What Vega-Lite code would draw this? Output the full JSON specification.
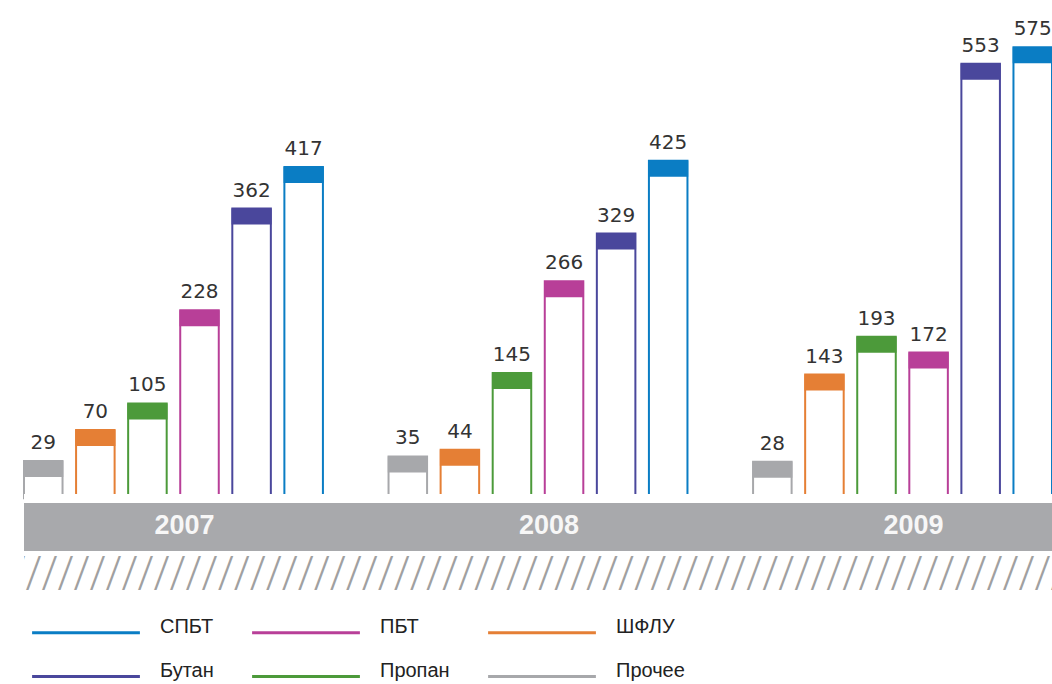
{
  "$schema": "https://vega.github.io/schema/vega-lite/v6.json",
  "width": 1028,
  "height": 684,
  "padding": {"left": 24, "top": 0, "right": 0, "bottom": 0},
  "autosize": {"type": "none"},
  "background": "white",
  "config": {
    "view": {"stroke": null}
  },
  "data": {
    "values": [
      {"year": "2007", "cat": "Прочее", "v": 29},
      {"year": "2007", "cat": "ШФЛУ", "v": 70},
      {"year": "2007", "cat": "Пропан", "v": 105},
      {"year": "2007", "cat": "ПБТ", "v": 228},
      {"year": "2007", "cat": "Бутан", "v": 362},
      {"year": "2007", "cat": "СПБТ", "v": 417},
      {"year": "2008", "cat": "Прочее", "v": 35},
      {"year": "2008", "cat": "ШФЛУ", "v": 44},
      {"year": "2008", "cat": "Пропан", "v": 145},
      {"year": "2008", "cat": "ПБТ", "v": 266},
      {"year": "2008", "cat": "Бутан", "v": 329},
      {"year": "2008", "cat": "СПБТ", "v": 425},
      {"year": "2009", "cat": "Прочее", "v": 28},
      {"year": "2009", "cat": "ШФЛУ", "v": 143},
      {"year": "2009", "cat": "Пропан", "v": 193},
      {"year": "2009", "cat": "ПБТ", "v": 172},
      {"year": "2009", "cat": "Бутан", "v": 553},
      {"year": "2009", "cat": "СПБТ", "v": 575}
    ]
  },
  "encoding": {
    "x": {"field": "year", "type": "nominal", "axis": null, "scale": {"paddingInner": 0.18, "paddingOuter": 0}},
    "y": {"type": "quantitative", "axis": null, "scale": {"domain": [-265.2, 637.2], "nice": false, "zero": false}}
  },
  "layer": [
    {
      "mark": {"type": "bar", "fill": "white", "strokeWidth": 2, "filled": false},
      "encoding": {
        "xOffset": {"field": "cat", "type": "nominal", "scale": {"domain": ["Прочее", "ШФЛУ", "Пропан", "ПБТ", "Бутан", "СПБТ"], "paddingInner": 0.26, "paddingOuter": 0}},
        "y": {"field": "v", "type": "quantitative"},
        "y2": {"datum": -20},
        "stroke": {
          "field": "cat", "type": "nominal",
          "scale": {"domain": ["СПБТ", "ПБТ", "ШФЛУ", "Бутан", "Пропан", "Прочее"], "range": ["#0a7dc4", "#b83f98", "#e57f35", "#4a479c", "#4c9a3a", "#a7a8ab"]},
          "legend": {
            "title": null, "orient": "none", "legendX": 49.5, "legendY": 620, "columns": 3, "direction": "horizontal",
            "symbolSize": 484, "symbolStrokeWidth": 3, "symbolType": "M-4.9,0H4.9",
            "labelFont": "Liberation Sans", "labelFontSize": 20, "labelColor": "#222222", "labelBaseline": "alphabetic",
            "labelOffset": 61.5, "columnPadding": 31, "rowPadding": 21, "padding": 0, "offset": 0
          }
        }
      }
    },
    {
      "mark": {"type": "tick", "thickness": 16, "size": 40, "yOffset": 8, "opacity": 1},
      "encoding": {
        "xOffset": {"field": "cat", "type": "nominal"},
        "y": {"field": "v", "type": "quantitative"},
        "color": {
          "field": "cat", "type": "nominal", "legend": null,
          "scale": {"domain": ["СПБТ", "ПБТ", "ШФЛУ", "Бутан", "Пропан", "Прочее"], "range": ["#0a7dc4", "#b83f98", "#e57f35", "#4a479c", "#4c9a3a", "#a7a8ab"]}
        }
      }
    },
    {
      "mark": {"type": "text", "font": "DejaVu Sans", "fontSize": 20, "color": "#333333", "baseline": "alphabetic", "dy": -12},
      "encoding": {
        "xOffset": {"field": "cat", "type": "nominal"},
        "y": {"field": "v", "type": "quantitative"},
        "text": {"field": "v", "type": "quantitative"}
      }
    },
    {
      "mark": {"type": "rect", "color": "white"},
      "encoding": {"x": null, "y": {"datum": -14.5}, "y2": {"datum": -26.4}}
    },
    {
      "mark": {"type": "rect", "color": "#a8a9ac"},
      "encoding": {"x": null, "y": {"datum": -26.4}, "y2": {"datum": -89.7}}
    },
    {
      "data": {"values": [{"year": "2007"}, {"year": "2008"}, {"year": "2009"}]},
      "mark": {"type": "text", "font": "Liberation Sans", "fontWeight": "bold", "fontSize": 27, "color": "#f7f7f7", "baseline": "middle", "dx": 11},
      "encoding": {
        "y": {"datum": -56.7},
        "text": {"field": "year", "type": "nominal"}
      }
    },
    {
      "data": {"values": [{"h": "////////////////////////////////////////////////////////////////////////////////////////////////////"}]},
      "mark": {"type": "text", "font": "Open Sans", "fontWeight": 300, "fontSize": 47, "color": "#a0a0a0", "baseline": "alphabetic", "clip": true},
      "encoding": {
        "x": null,
        "y": {"datum": -141},
        "text": {"field": "h", "type": "nominal"}
      }
    }
  ]
}
